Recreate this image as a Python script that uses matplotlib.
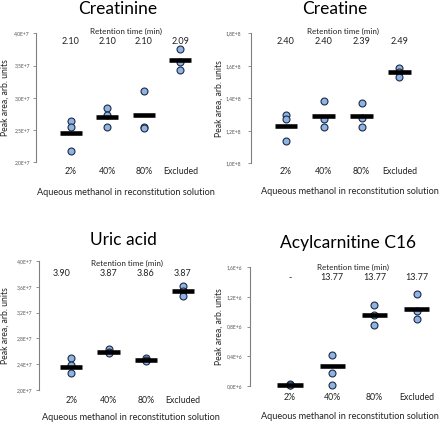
import matplotlib
matplotlib.use("Agg")
import matplotlib.pyplot as plt
import matplotlib.transforms as mtransforms

W, H = 440, 423

categories = ["2%", "40%", "80%", "Excluded"]

# Creatinine (E+7)
creatinine_pts = [[2.64, 2.54, 2.17], [2.84, 2.74, 2.55], [3.11, 2.55, 2.53], [3.76, 3.55, 3.43]]
creatinine_mean = [2.45, 2.70, 2.73, 3.58]
creatinine_rt = ["2.10", "2.10", "2.10", "2.09"]
creatinine_ticks = [2.0, 2.5, 3.0, 3.5, 4.0]

# Creatine (E+8)
creatine_pts = [[1.298, 1.271, 1.138], [1.384, 1.273, 1.226], [1.373, 1.279, 1.226], [1.588, 1.564, 1.529]]
creatine_mean = [1.23, 1.29, 1.29, 1.564]
creatine_rt = ["2.40", "2.40", "2.39", "2.49"]
creatine_ticks = [1.0, 1.2, 1.4, 1.6, 1.8]

# Uric acid (E+7)
uric_pts = [[2.49, 2.39, 2.27], [2.63, 2.59, 2.57], [2.50, 2.46, 2.45], [3.61, 3.54, 3.46]]
uric_mean = [2.36, 2.59, 2.47, 3.53]
uric_rt = ["3.90", "3.87", "3.86", "3.87"]
uric_ticks = [2.0, 2.4, 2.8, 3.2, 3.6, 4.0]

# Acylcarnitine C16 (E+6)
acyl_pts = [[0.02, 0.025, 0.015], [0.413, 0.171, 0.018], [1.093, 0.959, 0.816], [1.241, 1.009, 0.906]]
acyl_mean = [0.02, 0.265, 0.955, 1.04]
acyl_rt = ["-", "13.77", "13.77", "13.77"]
acyl_ticks = [0.0, 0.4, 0.8, 1.2, 1.6]

FONT = "Lato"
DOT_FACE = "#8db4e2"
TXT = "#222222"


def fy(y):
    return 1 - y / H


def panel(fig, title, pts, means, rt, ticks, exp, spine_x, top_y, bot_y, cat1_x, cat4_x,
          title_xy, head_y, rt_y, cat_y, xlab_xy, ylab_x, tick_pad, rt_shift=None):
    step = (cat4_x - cat1_x) / 3.0
    right_x = cat4_x + 0.7 * step
    ax = fig.add_axes([spine_x / W, fy(bot_y), (right_x - spine_x) / W, (bot_y - top_y) / H])
    ax.set_xlim(1 - (cat1_x - spine_x) / step, 4.7)
    ax.set_ylim(ticks[0], ticks[-1])
    for s in ["top", "right", "bottom"]:
        ax.spines[s].set_visible(False)
    ax.spines["left"].set_color("#808080")
    ax.spines["left"].set_linewidth(0.8)
    ax.set_xticks([])
    ax.set_yticks(ticks)
    ax.set_yticklabels([f"{t:.1f}".replace(".", ",") + f"E{exp}" for t in ticks],
                       fontsize=3.6, color="#555555", family=FONT)
    ax.tick_params(axis="y", length=2.5, width=0.6, color="#808080", pad=tick_pad)

    for i, vals in enumerate(pts):
        ax.plot([i + 1] * len(vals), vals, "o", ms=5, mfc=DOT_FACE, mec="#1f2a44", mew=0.8,
                zorder=3, clip_on=False)
        ax.plot([i + 1 - 0.3, i + 1 + 0.3], [means[i]] * 2, color="black", lw=3.3,
                solid_capstyle="butt", zorder=4, clip_on=False)

    tr = mtransforms.blended_transform_factory(ax.transData, fig.transFigure)
    ax.text(2.5, fy(head_y), "Retention time (min)", transform=tr, ha="center", va="center",
            fontsize=5.8, family=FONT, color=TXT)
    for i, r in enumerate(rt):
        x = i + 1 + (rt_shift[i] if rt_shift else 0)
        ax.text(x, fy(rt_y), r, transform=tr, ha="center", va="center", fontsize=6.5,
                family=FONT, color=TXT)
        ax.text(i + 1, fy(cat_y), categories[i], transform=tr, ha="center", va="center",
                fontsize=6.3, family=FONT, color=TXT)
    fig.text(xlab_xy[0] / W, fy(xlab_xy[1]), "Aqueous methanol in reconstitution solution",
             ha="center", va="center", fontsize=6.6, family=FONT, color=TXT)

    fig.text(title_xy[0] / W, fy(title_xy[1]), title, ha="center", va="center",
             fontsize=12.5, family=FONT, color="black")
    fig.text(ylab_x / W, fy((top_y + bot_y) / 2), "Peak area, arb. units", rotation=90,
             ha="center", va="center", fontsize=6.2, family=FONT, color=TXT)
    return ax


def main() -> None:
    fig = plt.figure(figsize=(W / 100, H / 100), dpi=100)
    fig.patch.set_facecolor("white")

    panel(fig, "Creatinine", creatinine_pts, creatinine_mean, creatinine_rt, creatinine_ticks, "+7",
          35.5, 33.3, 162.3, 70.7, 180.3, (118, 9), 31, 41.7, 172, (125.5, 192), 5, 1.5)
    panel(fig, "Creatine", creatine_pts, creatine_mean, creatine_rt, creatine_ticks, "+8",
          251, 33.3, 163.3, 286, 399.3, (335, 9), 31, 41.7, 172, (350, 191), 219.5, 4.5)
    panel(fig, "Uric acid", uric_pts, uric_mean, uric_rt, uric_ticks, "+7",
          39.3, 261, 390, 71.3, 183, (123, 239.5), 263.3, 273.3, 400.3, (131, 417.7), 5.5, 2.5,
          rt_shift=[-0.25, 0, 0, 0])
    panel(fig, "Acylcarnitine C16", acyl_pts, acyl_mean, acyl_rt, acyl_ticks, "+6",
          250, 267, 386, 290, 416.7, (348, 242.7), 267.7, 277.7, 397.7, (350, 416.7), 219.5, 3)

    fig.savefig("out.png", dpi=100)
    plt.close(fig)


if __name__ == "__main__":
    main()
